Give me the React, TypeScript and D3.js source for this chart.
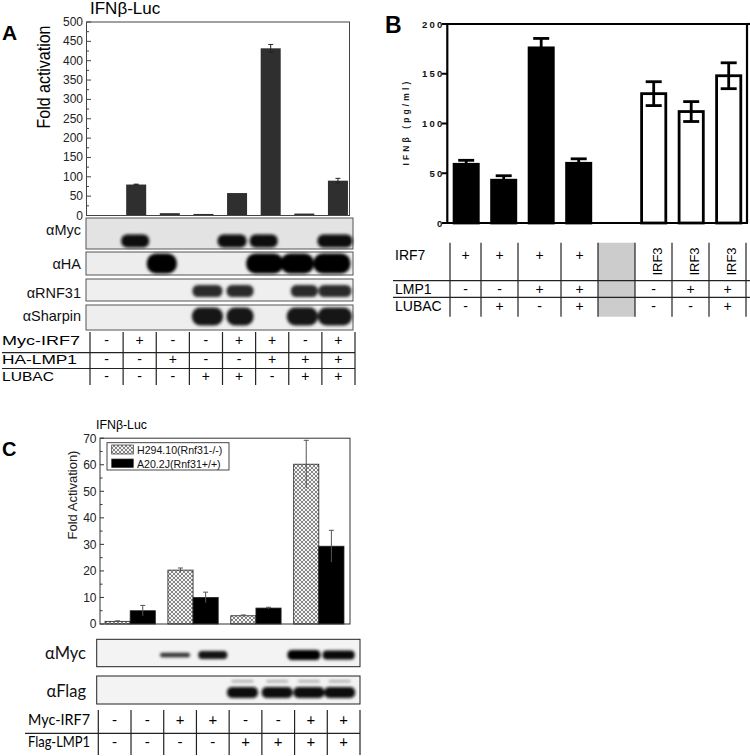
import React from 'react';
import * as d3 from 'd3';

// ---------------- Panel A data ----------------
const aLanes = [0, 1, 2, 3, 4, 5, 6, 7];
const aValues = [1, 80, 6, 4, 58, 432, 5, 90];
const aErrors = [0, 1, 0, 0, 0, 10, 0, 6];
const aTicks = [0, 50, 100, 150, 200, 250, 300, 350, 400, 450, 500];
const aMinorTicks = [25, 75, 125, 175, 225, 275, 325, 375, 425, 475];
const aBlotLabels = ['αMyc', 'αHA', 'αRNF31', 'αSharpin'];
const aBlotMyc = [0, 1, 0, 0, 1, 1, 0, 1];
const aBlotHA = [0, 0, 1, 0, 0, 1, 1, 1];
const aBlotRNF31 = [0, 0, 0, 1, 1, 0, 1, 1];
const aBlotSharpin = [0, 0, 0, 1, 1, 0, 1, 1];
const aRowLabels = ['Myc-IRF7', 'HA-LMP1', 'LUBAC'];
const aRowMycIRF7 = ['-', '+', '-', '-', '+', '+', '-', '+'];
const aRowHALMP1 = ['-', '-', '+', '-', '-', '+', '+', '+'];
const aRowLUBAC = ['-', '-', '-', '+', '+', '-', '+', '+'];

// ---------------- Panel B data ----------------
const bSlots = [0, 1, 2, 3, 4, 5, 6, 7];
const bValues = [59, 43, 176, 60, null, 130, 112, 148];
const bErrors = [4, 4.5, 9.5, 4.5, 0, 12, 10, 13];
const bFactor = ['IRF7', 'IRF7', 'IRF7', 'IRF7', '', 'IRF3', 'IRF3', 'IRF3'];
const bTicks = [0, 50, 100, 150, 200];
const bRowLabels = ['IRF7', 'LMP1', 'LUBAC'];
const bRowIRF7 = ['+', '+', '+', '+', '', 'IRF3', 'IRF3', 'IRF3'];
const bRowLMP1 = ['-', '-', '+', '+', '', '-', '+', '+'];
const bRowLUBAC = ['-', '+', '-', '+', '', '-', '-', '+'];

// ---------------- Panel C data ----------------
const cGroups = [0, 1, 2, 3];
const cSeriesNames = ['H294.10(Rnf31-/-)', 'A20.2J(Rnf31+/+)'];
const cH294 = [1, 20.3, 3.1, 60.2];
const cH294Err = [0.2, 0.8, 0.3, 9];
const cA20 = [5, 10, 6, 29.3];
const cA20Err = [2, 2, 0.3, 6];
const cTicks = [0, 10, 20, 30, 40, 50, 60, 70];
const cMinorTicks = [5, 15, 25, 35, 45, 55, 65];
const cBlotLabels = ['αMyc', 'αFlag'];
const cBlotMyc = [0, 0, 0.5, 0.8, 0, 0, 1, 0.9];
const cBlotFlag = [0, 0, 0, 0, 1, 1, 1, 1];
const cRowLabels = ['Myc-IRF7', 'Flag-LMP1'];
const cRowMycIRF7 = ['-', '-', '+', '+', '-', '-', '+', '+'];
const cRowFlagLMP1 = ['-', '-', '-', '-', '+', '+', '+', '+'];

// ---------------- layout / style ----------------
const ARIAL = 'Liberation Sans, Arial, Helvetica, sans-serif';
const CAL = 'Lato, Carlito, "Open Sans", sans-serif';

const aStrips = [
  { y0: 218, y1: 249, bg: '#e3e3e3' },
  { y0: 252, y1: 275, bg: '#ededed' },
  { y0: 279, y1: 301, bg: '#efefef' },
  { y0: 305, y1: 330, bg: '#eeeeee' },
];
const aBandStyle = [
  { cy: 241, h: 13, w: [0, 28, 0, 0, 29, 28, 0, 35], dx: [0, -1, 0, 0, -5, -7, 0, -3], color: '#0c0c0c' },
  { cy: 263.5, h: 20, w: [0, 0, 30, 0, 0, 37, 33, 37], dx: [0, 0, -8, 0, 0, -6, -7, -6], color: '#050505' },
  { cy: 291, h: 12, w: [0, 0, 0, 30, 27, 0, 27, 33], dx: [0, 0, 0, 4, 3, 0, 0, -3], color: '#2a2a2a' },
  { cy: 316.5, h: 18, w: [0, 0, 0, 31, 27, 0, 31, 34], dx: [0, 0, 0, 4, 3, 0, -2, -3], color: '#191919' },
];
const bCols = [450, 481, 518, 561, 598, 635, 672, 709, 746];

export default function App() {
  // ---------- Panel A scales ----------
  const aX = d3.scaleBand<number>().domain(aLanes).range([86.5, 354]).paddingInner(0.405).paddingOuter(0.18);
  const aY = d3.scaleLinear().domain([0, 500]).range([215.5, 22]);
  const aLane = d3.scaleBand<number>().domain(aLanes).range([90, 355]);
  const aBlots = [aBlotMyc, aBlotHA, aBlotRNF31, aBlotSharpin];
  const aRows = [aRowMycIRF7, aRowHALMP1, aRowLUBAC];
  const aRowBase = [345, 364, 380.5];

  // ---------- Panel B scales ----------
  const bX = d3.scaleBand<number>().domain(bSlots).range([447.3, 747.6]).paddingInner(0.28).paddingOuter(0.144);
  const bY = d3.scaleLinear().domain([0, 200]).range([223, 24]);
  const bRows = [bRowIRF7, bRowLMP1, bRowLUBAC];
  const bRowBase = [260, 294, 310.5];

  // ---------- Panel C scales ----------
  const cX = d3.scaleBand<number>().domain(cGroups).range([100, 349]).paddingInner(0.2).paddingOuter(0.08);
  const cSub = d3.scaleBand<number>().domain([0, 1]).range([0, cX.bandwidth()]);
  const cY = d3.scaleLinear().domain([0, 70]).range([624, 438.2]);
  const cLane = d3.scaleBand<number>().domain(aLanes).range([98.3, 360]);
  const cRows = [cRowMycIRF7, cRowFlagLMP1];
  const cRowBase = [725, 747];
  const cSeries = [
    { v: cH294, e: cH294Err, fill: 'url(#hatch)' },
    { v: cA20, e: cA20Err, fill: '#000' },
  ];
  const cMycDx = [0, 0, -5, 0, 0, 0, -7, -5];
  const cMycW = [0, 0, 30, 29, 0, 0, 33, 32];
  const cMycH = [0, 0, 4.5, 8, 0, 0, 10, 9];
  const cFlagDx = [0, 0, 0, 0, -3, -1, -2, -4];

  return (
    <svg width={750} height={756} style={{ position: 'absolute', left: 0, top: 0, background: '#fff' }}>
      <defs>
        <filter id="blur" x="-20%" y="-50%" width="140%" height="200%">
          <feGaussianBlur stdDeviation="1.4" />
        </filter>
        <pattern id="hatch" patternUnits="userSpaceOnUse" width="4" height="4">
          <rect width="4" height="4" fill="#f4f4f4" />
          <path d="M0,0 L4,4 M4,0 L0,4" stroke="#6a6a6a" strokeWidth="0.8" />
        </pattern>
      </defs>

      {/* ================= PANEL A ================= */}
      <text x={2} y={40} fontFamily={ARIAL} fontWeight="bold" fontSize={21}>A</text>
      <text x={90} y={14} fontFamily={ARIAL} fontSize={17}>IFNβ-Luc</text>
      <text transform="translate(50,77) rotate(-90)" textAnchor="middle" fontFamily={ARIAL} fontSize={19}
        textLength={103} lengthAdjust="spacingAndGlyphs">Fold activation</text>
      {aTicks.map(t => (
        <g key={'at' + t}>
          <line x1={86.5} x2={91} y1={aY(t)} y2={aY(t)} stroke="#444" />
          <text x={83} y={aY(t) + 4} textAnchor="end" fontFamily={ARIAL} fontSize={12} fill="#222">{t}</text>
        </g>
      ))}
      {aMinorTicks.map(t => (
        <line key={'am' + t} x1={86.5} x2={89} y1={aY(t)} y2={aY(t)} stroke="#444" />
      ))}
      {aLanes.map(i => (
        <rect key={'ab' + i} x={aX(i)!} y={aY(aValues[i])} width={aX.bandwidth()}
          height={aY(0) - aY(aValues[i])} fill="#2f2f2f" />
      ))}
      {aLanes.filter(i => aErrors[i] > 0).map(i => {
        const cx = aX(i)! + aX.bandwidth() / 2;
        return (
          <g key={'ae' + i} stroke="#222" strokeWidth={1}>
            <line x1={cx} x2={cx} y1={aY(aValues[i] + aErrors[i])} y2={aY(aValues[i] - aErrors[i])} />
            <line x1={cx - 2.5} x2={cx + 2.5} y1={aY(aValues[i] + aErrors[i])} y2={aY(aValues[i] + aErrors[i])} />
            <line x1={cx - 2.5} x2={cx + 2.5} y1={aY(aValues[i] - aErrors[i])} y2={aY(aValues[i] - aErrors[i])} />
          </g>
        );
      })}
      <rect x={86.5} y={22} width={263} height={193.5} fill="none" stroke="#444" strokeWidth={1} />

      {/* blots A */}
      {aStrips.map((s, k) => (
        <g key={'as' + k}>
          <rect x={86} y={s.y0} width={267} height={s.y1 - s.y0} fill={s.bg} stroke="#555" strokeWidth={1} />
          <text x={81} y={[235, 268.5, 298, 320.5][k]} textAnchor="end" fontFamily={ARIAL} fontSize={14.5}
            fill="#111">{aBlotLabels[k]}</text>
          <g filter="url(#blur)">
            {aLanes.filter(i => aBlots[k][i] > 0).map(i => {
              const st = aBandStyle[k];
              const cx = aX(i)! + aX.bandwidth() / 2 + st.dx[i];
              return (
                <rect key={i} x={cx - st.w[i] / 2} y={st.cy - st.h / 2} width={st.w[i]} height={st.h}
                  rx={st.h / 2.2} fill={st.color} />
              );
            })}
          </g>
        </g>
      ))}

      {/* table A */}
      <g stroke="#222" strokeWidth={1.2}>
        <line x1={2} x2={355} y1={352.7} y2={352.7} />
        <line x1={2} x2={355} y1={368.5} y2={368.5} />
        {[...aLanes.map(i => aLane(i)!), 355].map((x, k) => (
          <line key={'av' + k} x1={x} x2={x} y1={332} y2={385} />
        ))}
      </g>
      {aRowLabels.map((lab, r) => (
        <text key={'arl' + r} x={2} y={aRowBase[r]} fontFamily={ARIAL} fontSize={13}
          textLength={[78, 75, 52][r]} lengthAdjust="spacingAndGlyphs">{lab}</text>
      ))}
      {aRows.map((row, r) => row.map((s, i) => (
        <text key={'ac' + r + '_' + i} x={aLane(i)! + aLane.bandwidth() / 2} y={aRowBase[r]} textAnchor="middle"
          fontFamily={ARIAL} fontSize={14}>{s}</text>
      )))}

      {/* ================= PANEL B ================= */}
      <text x={385} y={33} fontFamily={ARIAL} fontWeight="bold" fontSize={23}>B</text>
      <text transform="translate(408.5,122) rotate(-90)" textAnchor="middle" fontFamily={ARIAL} fontWeight="bold"
        fontSize={8.5} style={{ letterSpacing: '3.1px' }} fill="#1a1a1a">IFNβ (pg/ml)</text>
      {bTicks.map(t => (
        <g key={'bt' + t}>
          <line x1={442} x2={447.3} y1={bY(t)} y2={bY(t)} stroke="#000" strokeWidth={2} />
          <text x={444.5} y={bY(t) + 3.5} textAnchor="end" fontFamily={ARIAL} fontWeight="bold" fontSize={9.5}
            style={{ letterSpacing: '2.2px' }} fill="#111">{t}</text>
        </g>
      ))}
      {bSlots.filter(i => bValues[i] != null).map(i => {
        const v = bValues[i] as number;
        const x = bX(i)!;
        const w = bX.bandwidth();
        const cx = x + w / 2;
        const white = bFactor[i] === 'IRF3';
        return (
          <g key={'bb' + i}>
            <rect x={x + 1.4} y={bY(v)} width={w - 2.8} height={bY(0) - bY(v)} fill={white ? '#fff' : '#000'}
              stroke="#000" strokeWidth={2.8} />
            <line x1={cx} x2={cx} y1={bY(v + bErrors[i])} y2={white ? bY(v - bErrors[i]) : bY(v)} stroke="#000"
              strokeWidth={2.8} />
            <line x1={cx - 8} x2={cx + 8} y1={bY(v + bErrors[i])} y2={bY(v + bErrors[i])} stroke="#000" strokeWidth={2.8} />
            {white && (
              <line x1={cx - 8} x2={cx + 8} y1={bY(v - bErrors[i])} y2={bY(v - bErrors[i])} stroke="#000"
                strokeWidth={2.8} />
            )}
          </g>
        );
      })}
      <g stroke="#000" strokeWidth={2.2} fill="none">
        <line x1={447.3} x2={747} y1={24} y2={24} />
        <line x1={747} x2={747} y1={24} y2={223} />
        <line x1={447.3} x2={447.3} y1={23} y2={224} />
        <line x1={446} x2={748} y1={223} y2={223} />
        <line x1={747} x2={750} y1={24} y2={24} />
      </g>

      {/* table B */}
      <rect x={bCols[4]} y={242.7} width={bCols[5] - bCols[4]} height={74} fill="#cccccc" />
      <g stroke="#222" strokeWidth={1.2}>
        <line x1={393} x2={750} y1={280.7} y2={280.7} />
        <line x1={393} x2={750} y1={297.3} y2={297.3} />
        {bCols.map((x, k) => (
          <line key={'bv' + k} x1={x} x2={x} y1={242.7} y2={316.7} />
        ))}
      </g>
      {bRowLabels.map((lab, r) => (
        <text key={'brl' + r} x={395} y={bRowBase[r]} fontFamily={ARIAL} fontSize={14}>{lab}</text>
      ))}
      {bRows.map((row, r) => row.map((s, i) => {
        const cx = (bCols[i] + bCols[i + 1]) / 2;
        if (s === 'IRF3') {
          return (
            <text key={'bc' + r + '_' + i} transform={`translate(${cx + 8},261.5) rotate(-90)`} textAnchor="middle"
              fontFamily={ARIAL} fontSize={13}>{s}</text>
          );
        }
        return (
          <text key={'bc' + r + '_' + i} x={cx} y={bRowBase[r]} textAnchor="middle" fontFamily={ARIAL}
            fontSize={14}>{s}</text>
        );
      }))}

      {/* ================= PANEL C ================= */}
      <text x={2} y={456} fontFamily={ARIAL} fontWeight="bold" fontSize={20}>C</text>
      <text x={96} y={429} fontFamily={ARIAL} fontSize={13.5} textLength={51} lengthAdjust="spacingAndGlyphs">IFNβ-Luc</text>
      <text transform="translate(76.5,495) rotate(-90)" textAnchor="middle" fontFamily={ARIAL} fontSize={13}
        fill="#222">Fold Activation)</text>
      {cTicks.map(t => (
        <g key={'ct' + t}>
          <line x1={100} x2={104} y1={cY(t)} y2={cY(t)} stroke="#333" />
          <text x={96.5} y={cY(t) + 4.3} textAnchor="end" fontFamily={ARIAL} fontSize={12} fill="#222">{t}</text>
        </g>
      ))}
      {cMinorTicks.map(t => (
        <line key={'cm' + t} x1={100} x2={102.5} y1={cY(t)} y2={cY(t)} stroke="#333" />
      ))}
      {cSeries.map((s, k) => cGroups.map(g => {
        const x = cX(g)! + cSub(k)!;
        const w = cSub.bandwidth();
        return (
          <rect key={'cb' + k + '_' + g} x={x} y={cY(s.v[g])} width={w} height={cY(0) - cY(s.v[g])} fill={s.fill}
            stroke="#222" strokeWidth={0.8} />
        );
      }))}
      {cSeries.map((s, k) => cGroups.map(g => {
        const cx = cX(g)! + cSub(k)! + cSub.bandwidth() / 2;
        const top = cY(s.v[g] + s.e[g]);
        return (
          <g key={'ce' + k + '_' + g} stroke="#555" strokeWidth={1}>
            <line x1={cx} x2={cx} y1={top} y2={cY(Math.max(0, s.v[g] - s.e[g]))} />
            <line x1={cx - 2.5} x2={cx + 2.5} y1={top} y2={top} />
          </g>
        );
      }))}
      <rect x={100} y={cY(70)} width={250} height={cY(0) - cY(70)} fill="none" stroke="#333" strokeWidth={1} />
      {/* legend */}
      <rect x={107} y={442.7} width={122} height={27.3} fill="#fff" stroke="#333" strokeWidth={0.9} />
      {cSeriesNames.map((n, k) => (
        <g key={'cl' + k}>
          <rect x={111.7} y={[445, 459][k]} width={21.6} height={[9, 8.5][k]} fill={cSeries[k].fill} stroke="#333"
            strokeWidth={0.7} />
          <text x={137} y={[453.8, 467.5][k]} fontFamily={ARIAL} fontSize={10.6} fill="#111">{n}</text>
        </g>
      ))}

      {/* blots C */}
      <rect x={96.7} y={639.3} width={263.3} height={27.4} fill="#f3f3f3" stroke="#222" strokeWidth={1} />
      <rect x={96.7} y={676} width={263.3} height={28} fill="#f3f3f3" stroke="#222" strokeWidth={1} />
      {cBlotLabels.map((lab, k) => (
        <text key={'cbl' + k} x={86} y={[659, 696.5][k]} textAnchor="end" fontFamily={CAL} fontSize={16.5}
          fill="#111">{lab}</text>
      ))}
      <g filter="url(#blur)">
        {aLanes.filter(i => cBlotMyc[i] > 0).map(i => {
          const cx = cLane(i)! + cLane.bandwidth() / 2 + cMycDx[i];
          return (
            <rect key={'cmb' + i} x={cx - cMycW[i] / 2} y={655 - cMycH[i] / 2} width={cMycW[i]} height={cMycH[i]}
              rx={cMycH[i] / 2.2} fill="#000" opacity={0.6 + 0.4 * cBlotMyc[i]} />
          );
        })}
        {aLanes.filter(i => cBlotFlag[i] > 0).map(i => {
          const cx = cLane(i)! + cLane.bandwidth() / 2 + cFlagDx[i];
          return (
            <g key={'cfb' + i}>
              <rect x={cx - 15.5} y={687} width={31} height={11} rx={5} fill="#0a0a0a" />
              <rect x={cx - 11} y={680} width={22} height={2.5} rx={1.2} fill="#aaa" />
            </g>
          );
        })}
      </g>

      {/* table C */}
      <g stroke="#222" strokeWidth={1.2}>
        <line x1={25} x2={360} y1={733.3} y2={733.3} />
        {[...aLanes.map(i => cLane(i)!), 360].map((x, k) => (
          <line key={'cv' + k} x1={x} x2={x} y1={710} y2={755} />
        ))}
      </g>
      {cRowLabels.map((lab, r) => (
        <text key={'crl' + r} x={28} y={cRowBase[r]} fontFamily={CAL} fontSize={15} textLength={62}
          lengthAdjust="spacingAndGlyphs">{lab}</text>
      ))}
      {cRows.map((row, r) => row.map((s, i) => (
        <text key={'cc' + r + '_' + i} x={cLane(i)! + cLane.bandwidth() / 2} y={cRowBase[r]} textAnchor="middle"
          fontFamily={CAL} fontSize={15}>{s}</text>
      )))}
    </svg>
  );
}
